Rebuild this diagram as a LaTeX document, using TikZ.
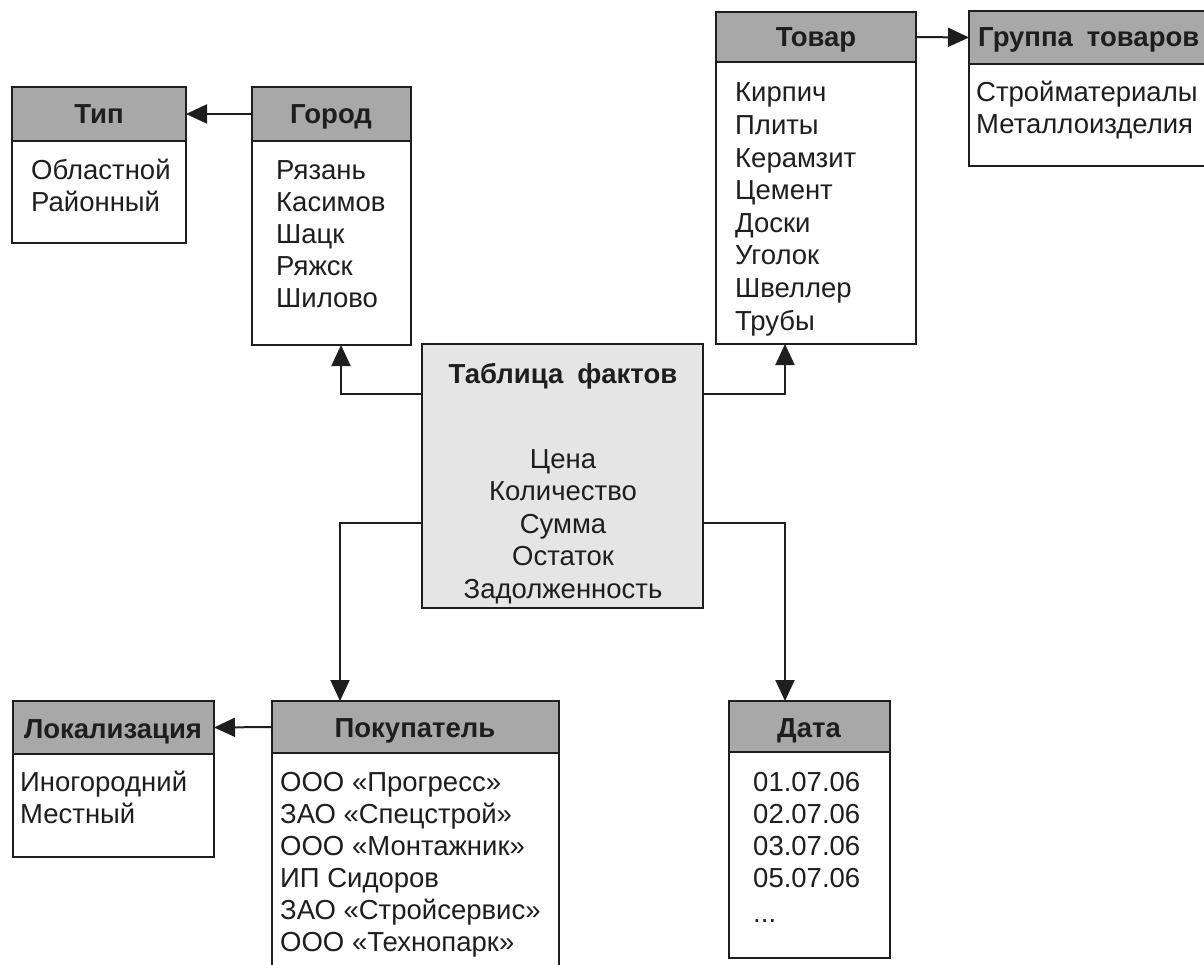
\documentclass[tikz,border=0pt]{standalone}
\usepackage{fontspec}
\setmainfont{Liberation Sans}
\usetikzlibrary{arrows.meta}
\definecolor{ink}{HTML}{1E1E1E}
\definecolor{hdrfill}{HTML}{A8A8A8}
\definecolor{factfill}{HTML}{E5E5E5}
\newcommand{\wsp}{\hspace{14pt}}
\tikzset{
  frame/.style={draw=ink, line width=2pt, inner sep=0pt, outer sep=0pt, anchor=north west},
  hdr/.style={frame, fill=hdrfill},
  body/.style={frame, fill=white},
  fact/.style={frame, fill=factfill},
  htext/.style={font=\fontsize{27.5}{32}\selectfont\bfseries, text=ink, inner sep=0pt, anchor=base},
  item/.style={font=\fontsize{27.5}{32}\selectfont, text=ink, inner sep=0pt, anchor=base west},
  citem/.style={item, anchor=base},
  link/.style={draw=ink, line width=2pt, -{Triangle[length=21pt,width=19pt]}},
}
\begin{document}
\begin{tikzpicture}[x=1pt, y=-1pt]
\clip (0,0) rectangle (1204,965);
\fill[white] (0,0) rectangle (1204,965);

% --- Тип ---
\node[body, minimum width=174, minimum height=102] (tip-b) at (12,141) {};
\node[hdr, minimum width=174, minimum height=54] (tip-h) at (12,87) {};
\node[htext] (tip-t) at (99,124) {Тип};
\foreach \t [count=\i from 0] in {Областной, Районный}
  \node[item] (tip-\i) at (31,180+32*\i) {\t};

% --- Город ---
\node[body, minimum width=159, minimum height=204] (gorod-b) at (252,141) {};
\node[hdr, minimum width=159, minimum height=54] (gorod-h) at (252,87) {};
\node[htext] (gorod-t) at (331,124) {Город};
\foreach \t [count=\i from 0] in {Рязань, Касимов, Шацк, Ряжск, Шилово}
  \node[item] (gorod-\i) at (276,180+32*\i) {\t};

% --- Товар ---
\node[body, minimum width=200, minimum height=282] (tovar-b) at (716,62) {};
\node[hdr, minimum width=200, minimum height=50] (tovar-h) at (716,12) {};
\node[htext] (tovar-t) at (816,47) {Товар};
\foreach \t [count=\i from 0] in {Кирпич, Плиты, Керамзит, Цемент, Доски, Уголок, Швеллер, Трубы}
  \node[item] (tovar-\i) at (735,102+32.6*\i) {\t};

% --- Группа товаров ---
\node[body, minimum width=300, minimum height=102] (grp-b) at (969,64) {};
\node[hdr, minimum width=300, minimum height=53] (grp-h) at (969,11) {};
\node[htext, anchor=base west] (grp-t) at (978,47) {Группа\wsp товаров};
\foreach \t [count=\i from 0] in {Стройматериалы, Металлоизделия}
  \node[item] (grp-\i) at (976,102+32*\i) {\t};

% --- Таблица фактов ---
\node[fact, minimum width=281, minimum height=264] (fact) at (422,344) {};
\node[htext] (fact-t) at (563,383) {Таблица\wsp фактов};
\foreach \t [count=\i from 0] in {Цена, Количество, Сумма, Остаток, Задолженность}
  \node[citem] (fact-\i) at (563,468+32.5*\i) {\t};

% --- Локализация ---
\node[body, minimum width=201, minimum height=103] (lok-b) at (13,754) {};
\node[hdr, minimum width=201, minimum height=53] (lok-h) at (13,701) {};
\node[htext] (lok-t) at (113,738) {Локализация};
\foreach \t [count=\i from 0] in {Иногородний, Местный}
  \node[item] (lok-\i) at (20,791+32*\i) {\t};

% --- Покупатель ---
\node[body, minimum width=287, minimum height=260] (pok-b) at (272,753) {};
\node[hdr, minimum width=287, minimum height=52] (pok-h) at (272,701) {};
\node[htext] (pok-t) at (415,737) {Покупатель};
\foreach \t [count=\i from 0] in {ООО «Прогресс», ЗАО «Спецстрой», ООО «Монтажник», ИП Сидоров, ЗАО «Стройсервис», ООО «Технопарк»}
  \node[item] (pok-\i) at (280,791+32*\i) {\t};

% --- Дата ---
\node[body, minimum width=161, minimum height=206] (data-b) at (729,752) {};
\node[hdr, minimum width=161, minimum height=51] (data-h) at (729,701) {};
\node[htext] (data-t) at (809,737) {Дата};
\foreach \t [count=\i from 0] in {01.07.06, 02.07.06, 03.07.06, 05.07.06}
  \node[item] (data-\i) at (753,791+32*\i) {\t};
\node[item] (data-more) at (753,922) {...};

% --- связи ---
\draw[link] (gorod-h.west) -- (tip-h.east);
\draw[link] (tovar-h.east) -- (grp-h.west);
\draw[link] (pok-h.west) -- (lok-h.east);
\draw[link] ([yshift=-50pt]fact.north west) -| ([xshift=-70pt]gorod-b.south east);
\draw[link] ([yshift=-50pt]fact.north east) -| ([xshift=69pt]tovar-b.south west);
\draw[link] ([yshift=85pt]fact.south west) -| ([xshift=68pt]pok-h.north west);
\draw[link] ([yshift=85pt]fact.south east) -| ([xshift=56pt]data-h.north west);
\end{tikzpicture}
\end{document}
